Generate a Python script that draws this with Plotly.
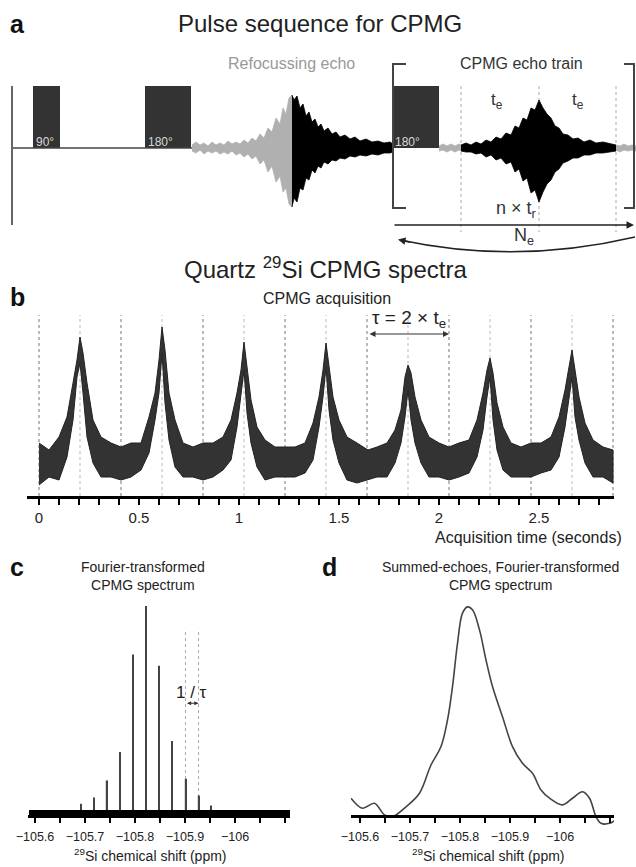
import plotly.graph_objects as go

W, H = 636, 867

# ---------------- Panel a: pulse sequence (time in a.u., amplitude in a.u.) ----------------
pulse_start = [33, 145, 392]
pulse_end = [60, 191, 439]
pulse_amp = [62, 62, 62]
pulse_labels = ["90°", "180°", "180°"]

refocus_t = [192, 196, 200, 204, 208, 212, 216, 220, 224, 228, 232, 236, 240, 244, 248, 252, 256, 260,
             264, 268, 272, 276, 280, 283, 286, 289, 292]
refocus_up = [3, 6, 3, 5, 2, 6, 3, 5, 3, 7, 4, 6, 4, 8, 5, 10, 7, 14, 10, 20, 16, 30, 24, 40, 34, 50, 53]
refocus_lo = [3, 5, 2, 6, 3, 5, 3, 6, 4, 6, 3, 7, 5, 9, 6, 11, 8, 16, 12, 24, 18, 34, 28, 44, 40, 56, 59]

echo1_t = [292, 294, 297, 300, 303, 306, 309, 312, 315, 318, 321, 324, 328, 332, 336, 340, 345, 350,
           355, 360, 366, 372, 378, 384, 390, 393]
echo1_up = [53, 48, 52, 40, 44, 32, 36, 26, 29, 21, 24, 17, 20, 14, 16, 11, 13, 9, 11, 7, 9, 6, 7, 5, 6, 4]
echo1_lo = [59, 50, 54, 40, 42, 30, 32, 22, 25, 18, 20, 14, 16, 12, 13, 10, 11, 8, 9, 7, 8, 6, 7, 5, 5, 4]

gap_t = [439, 443, 447, 451, 455, 459, 461]
gap_up = [2, 4, 2, 4, 2, 4, 3]
gap_lo = [3, 2, 4, 2, 4, 2, 3]

echo2_t = [461, 466, 471, 476, 481, 486, 491, 496, 501, 506, 511, 515, 519, 523, 527, 531, 535, 539,
           543, 547, 551, 555, 559, 563, 568, 573, 578, 584, 590, 596, 603, 610, 616]
echo2_up = [3, 5, 3, 6, 4, 8, 6, 11, 9, 15, 13, 22, 20, 30, 28, 40, 38, 48, 40, 34, 30, 22, 20, 14,
            13, 9, 10, 6, 8, 5, 6, 4, 3]
echo2_lo = [3, 4, 4, 6, 5, 9, 7, 12, 10, 16, 14, 24, 21, 33, 30, 45, 42, 54, 44, 36, 32, 24, 21, 15,
            13, 10, 10, 7, 7, 5, 5, 4, 3]

tail_t = [616, 620, 624, 628, 632, 636]
tail_up = [3, 2, 4, 2, 3, 2]
tail_lo = [2, 4, 2, 3, 2, 3]

a_dotted_t = [461, 539, 616]

# ---------------- Panel b: CPMG acquisition ----------------
b_time = [0.00, 0.05, 0.10, 0.14, 0.17, 0.19, 0.205, 0.22, 0.24, 0.27, 0.31, 0.36, 0.41,
          0.46, 0.51, 0.55, 0.58, 0.60, 0.615, 0.63, 0.65, 0.68, 0.72, 0.77, 0.82,
          0.87, 0.92, 0.96, 0.99, 1.01, 1.025, 1.04, 1.06, 1.09, 1.13, 1.18, 1.23,
          1.28, 1.33, 1.37, 1.40, 1.42, 1.435, 1.45, 1.47, 1.50, 1.54, 1.59, 1.645,
          1.69, 1.74, 1.78, 1.81, 1.83, 1.845, 1.86, 1.88, 1.91, 1.95, 2.00, 2.05,
          2.10, 2.15, 2.19, 2.22, 2.24, 2.255, 2.27, 2.29, 2.32, 2.36, 2.41, 2.46,
          2.51, 2.56, 2.60, 2.63, 2.65, 2.665, 2.68, 2.70, 2.73, 2.77, 2.82, 2.87]
b_upper = [20, 13, 26, 46, 80, 103, 126, 110, 80, 43, 26, 20, 16,
           20, 20, 46, 70, 103, 136, 113, 70, 43, 20, 16, 20,
           20, 26, 43, 70, 93, 121, 96, 63, 36, 23, 16, 16,
           16, 20, 40, 66, 93, 120, 96, 66, 43, 26, 20, 13,
           16, 20, 33, 53, 86, 98, 90, 66, 43, 26, 20, 16,
           20, 23, 43, 70, 93, 105, 90, 60, 36, 20, 16, 20,
           20, 26, 46, 73, 96, 113, 93, 66, 40, 23, 16, 13]
b_lower = [-22, -14, -17, 6, 43, 86, 100, 70, 26, 0, -14, -14, -17,
           -14, -7, 10, 43, 70, 110, 60, 23, -4, -14, -14, -17,
           -14, -7, 3, 36, 66, 93, 50, 20, -4, -17, -14, -14,
           -14, -10, 3, 36, 66, 96, 53, 23, 0, -17, -20, -17,
           -14, -14, 0, 20, 46, 73, 43, 20, 0, -14, -14, -17,
           -14, -10, 6, 33, 66, 86, 43, 13, -7, -14, -14, -14,
           -10, -7, 6, 36, 66, 86, 46, 23, 0, -14, -14, -20]
b_dotted = [0.0, 0.205, 0.41, 0.615, 0.82, 1.025, 1.23, 1.435, 1.64, 1.845, 2.05, 2.255, 2.46, 2.665, 2.87]
b_ticks = [0, 0.5, 1, 1.5, 2, 2.5]
b_ticktext = ["0", "0.5", "1", "1.5", "2", "2.5"]

# ---------------- Panel c: FT CPMG spectrum (spikelets) ----------------
c_ppm = [-105.692, -105.718, -105.743, -105.770, -105.796, -105.822, -105.848, -105.874, -105.901, -105.927, -105.952]
c_int = [0.044, 0.074, 0.157, 0.294, 0.766, 1.0, 0.711, 0.348, 0.165, 0.084, 0.036]
c_noise_ppm = [-105.588, -106.12]

# ---------------- Panel d: summed echoes spectrum ----------------
d_ppm = [-105.582, -105.605, -105.629, -105.649, -105.665, -105.692, -105.719, -105.742, -105.762,
         -105.775, -105.785, -105.795, -105.805, -105.815, -105.825, -105.839, -105.852, -105.865,
         -105.885, -105.905, -105.925, -105.945, -105.962, -105.979, -106.005, -106.025, -106.045,
         -106.059, -106.072, -106.082, -106.099, -106.115]
d_int = [0.085, 0.037, 0.061, 0.005, -0.003, 0.044, 0.109, 0.244, 0.332,
         0.459, 0.619, 0.826, 0.970, 1.0, 0.986, 0.89, 0.746, 0.619,
         0.475, 0.332, 0.252, 0.204, 0.124, 0.085, 0.053, 0.085, 0.116,
         0.085, -0.003, -0.035, -0.035, -0.011]

ppm_ticks = [-105.6, -105.7, -105.8, -105.9, -106.0]
ppm_ticktext = ["\u2212105.6", "\u2212105.7", "\u2212105.8", "\u2212105.9", "\u2212106"]

FONT = "Arial, Liberation Sans, sans-serif"


def px(xp):
    return xp / W


def py(yp):
    return 1 - yp / H


def band(t, up, lo, neg=True):
    lo_vals = [-v for v in lo] if neg else list(lo)
    return list(t) + list(t)[::-1], list(up) + lo_vals[::-1]


fig = go.Figure()

# ---- panel a traces
fig.add_trace(go.Scatter(x=[12, 192], y=[0, 0], mode="lines",
                         line=dict(color="#444", width=1.5), xaxis="x", yaxis="y"))
fig.add_trace(go.Bar(x=[(s + e) / 2 for s, e in zip(pulse_start, pulse_end)],
                     y=pulse_amp, width=[e - s for s, e in zip(pulse_start, pulse_end)],
                     marker=dict(color="#333", line=dict(width=0)), xaxis="x", yaxis="y"))
for t, up, lo, col in [(refocus_t, refocus_up, refocus_lo, "#b0b0b0"),
                       (echo1_t, echo1_up, echo1_lo, "#000"),
                       (gap_t, gap_up, gap_lo, "#b0b0b0"),
                       (echo2_t, echo2_up, echo2_lo, "#000"),
                       (tail_t, tail_up, tail_lo, "#b0b0b0")]:
    bx, by = band(t, up, lo)
    fig.add_trace(go.Scatter(x=bx, y=by, fill="toself", fillcolor=col, mode="lines",
                             line=dict(color=col, width=0.8), xaxis="x", yaxis="y"))

# ---- panel b traces
bx, by = band(b_time, b_upper, b_lower, neg=False)
fig.add_trace(go.Scatter(x=bx, y=by, fill="toself", fillcolor="#333", mode="lines",
                         line=dict(color="#222", width=1), xaxis="x2", yaxis="y2"))

# ---- panel c traces
fig.add_trace(go.Scatter(x=c_noise_ppm, y=[0, 0], mode="lines", line=dict(color="#000", width=6),
                         xaxis="x3", yaxis="y3"))
fig.add_trace(go.Bar(x=c_ppm, y=c_int, width=0.0028, marker=dict(color="#444", line=dict(width=0)),
                     xaxis="x3", yaxis="y3"))

# ---- panel d traces
fig.add_trace(go.Scatter(x=d_ppm, y=d_int, mode="lines", line=dict(color="#444", width=1.6, shape="spline"),
                         xaxis="x4", yaxis="y4"))

shapes = []
shapes.append(dict(type="line", xref="x", yref="y", x0=12, x1=12, y0=62, y1=-77,
                   line=dict(color="#666", width=2)))
for t in a_dotted_t:
    shapes.append(dict(type="line", xref="x", yref="y", x0=t, x1=t, y0=62, y1=-84,
                       line=dict(color="#aaa", width=1, dash="dot"), layer="below"))
shapes.append(dict(type="path", xref="x", yref="y", path="M 406,84 L 393,84 L 393,-60 L 406,-60",
                   line=dict(color="#444", width=2)))
shapes.append(dict(type="path", xref="x", yref="y", path="M 624,84 L 634,84 L 634,-60 L 624,-60",
                   line=dict(color="#444", width=2)))
shapes.append(dict(type="path", xref="x", yref="y", path="M 635,-89 Q 516,-117 400,-92",
                   line=dict(color="#222", width=1.5)))
for i, t in enumerate(b_dotted):
    shapes.append(dict(type="line", xref="x2", yref="y2", x0=t, x1=t, y0=-33, y1=148,
                       line=dict(color="#bbb" if i % 2 else "#777", width=1, dash="dot"), layer="below"))
for t in c_ppm[8:10]:
    shapes.append(dict(type="line", xref="x3", yref="y3", x0=t, x1=t, y0=-0.01, y1=0.89,
                       line=dict(color="#aaa", width=1, dash="dot"), layer="below"))

ann = []


def text(x, y, s, size, color="#222", xanchor="center", bold=False):
    ann.append(dict(x=px(x), y=py(y), xref="paper", yref="paper", text=("<b>%s</b>" % s) if bold else s,
                    showarrow=False, xanchor=xanchor, yanchor="middle",
                    font=dict(size=size, color=color, family=FONT)))


text(8, 24, "a", 25, "#111", "left", True)
text(320, 23, "Pulse sequence for CPMG", 24)
text(291, 63, "Refocussing echo", 16, "#999")
text(521, 64, "CPMG echo train", 16, "#333")
for s, lab in zip(pulse_start, pulse_labels):
    text(s + 1, 142, lab, 12, "#d8d8d8", "left")
text(497, 101, "t<sub>e</sub>", 17, "#333")
text(578, 101, "t<sub>e</sub>", 17, "#333")
text(516, 210, "n × t<sub>r</sub>", 18, "#333")
text(524, 237, "N<sub>e</sub>", 18, "#333")

text(325, 268, "Quartz <sup>29</sup>Si CPMG spectra", 24)
text(8, 297, "b", 25, "#111", "left", True)
text(327, 298, "CPMG acquisition", 16)
text(409, 319, "τ = 2 × t<sub>e</sub>", 19)
text(624, 537, "Acquisition time (seconds)", 16, "#222", "right")

text(8, 567, "c", 25, "#111", "left", True)
text(143, 576, "Fourier-transformed<br>CPMG spectrum", 14)
text(191, 692, "1 / τ", 17)
text(150, 855, "<sup>29</sup>Si chemical shift (ppm)", 14)

text(320, 567, "d", 25, "#111", "left", True)
text(500, 576, "Summed-echoes, Fourier-transformed<br>CPMG spectrum", 14)
text(488, 855, "<sup>29</sup>Si chemical shift (ppm)", 14)

ann.append(dict(x=634, y=-77, xref="x", yref="y", ax=393, ay=-77, axref="x", ayref="y",
                showarrow=True, arrowhead=2, arrowsize=1, arrowwidth=1.5, arrowcolor="#222", text=""))
ann.append(dict(x=398, y=-91.5, xref="x", yref="y", ax=14, ay=3,
                showarrow=True, arrowhead=2, arrowsize=1, arrowwidth=1.5, arrowcolor="#222", text=""))
ann.append(dict(x=2.05, y=129, xref="x2", yref="y2", ax=1.645, ay=129, axref="x2", ayref="y2",
                showarrow=True, arrowhead=2, arrowside="end+start", arrowsize=1, arrowwidth=1.2,
                arrowcolor="#333", text=""))
ann.append(dict(x=-105.927, y=0.53, xref="x3", yref="y3", ax=-105.901, ay=0.53, axref="x3", ayref="y3",
                showarrow=True, arrowhead=2, arrowside="end+start", arrowsize=0.7, arrowwidth=1.2,
                arrowcolor="#333", text=""))
ann.append(dict(x=2.94, y=-33, xref="x2", yref="y2", ax=-20, ay=0, showarrow=True, arrowhead=2,
                arrowsize=1.3, arrowwidth=2.2, arrowcolor="#000", text=""))
ann.append(dict(x=-106.136, y=-0.01, xref="x3", yref="y3", ax=-20, ay=0, showarrow=True, arrowhead=2,
                arrowsize=1.3, arrowwidth=2.2, arrowcolor="#000", text=""))
ann.append(dict(x=-106.134, y=0, xref="x4", yref="y4", ax=-20, ay=0, showarrow=True, arrowhead=2,
                arrowsize=1.3, arrowwidth=2.2, arrowcolor="#000", text=""))

hidden = dict(visible=False, showgrid=False, zeroline=False, automargin=False)
tickfont_small = dict(size=12.5, color="#222", family=FONT)

fig.update_layout(
    template="none",
    width=W, height=H, margin=dict(l=0, r=0, t=0, b=0, pad=0), autosize=False,
    paper_bgcolor="white", plot_bgcolor="rgba(0,0,0,0)", showlegend=False,
    barmode="overlay",
    xaxis=dict(domain=[0, 1], range=[0, 636], **hidden),
    yaxis=dict(domain=[py(270), py(50)], range=[-122, 98], **hidden),
    xaxis2=dict(domain=[px(27), px(614)], range=[-0.06, 2.875], anchor="y2", automargin=False,
                showline=True, linecolor="#000", linewidth=2.5, showgrid=False, zeroline=False,
                ticks="outside", ticklen=6, tickwidth=1.5, tickcolor="#000", ticklabelstandoff=0,
                tickmode="array", tickvals=b_ticks, ticktext=b_ticktext,
                tickfont=dict(size=15, color="#222", family=FONT),
                minor=dict(dtick=0.1, tick0=0, ticks="outside", ticklen=6, tickwidth=1.5, tickcolor="#000",
                           showgrid=False)),
    yaxis2=dict(domain=[py(496), py(300)], range=[-33, 163], anchor="x2", **hidden),
    xaxis3=dict(domain=[px(28), px(290)], range=[-105.586, -106.11], anchor="y3", automargin=False,
                showline=True, linecolor="#000", linewidth=2.5, showgrid=False, zeroline=False,
                ticks="outside", ticklen=5, tickwidth=1.5, tickcolor="#000", ticklabelstandoff=3,
                tickmode="array", tickvals=ppm_ticks, ticktext=ppm_ticktext, tickfont=tickfont_small,
                minor=dict(dtick=0.05, tick0=-106, ticks="outside", ticklen=5, tickwidth=1.5, tickcolor="#000",
                           showgrid=False)),
    yaxis3=dict(domain=[py(815), py(600)], range=[-0.01, 1.029], anchor="x3", **hidden),
    xaxis4=dict(domain=[px(351), px(614)], range=[-105.582, -106.108], anchor="free", position=py(816),
                automargin=False,
                showline=True, linecolor="#000", linewidth=2.5, showgrid=False, zeroline=False,
                ticks="outside", ticklen=5, tickwidth=1.5, tickcolor="#000", ticklabelstandoff=3,
                tickmode="array", tickvals=ppm_ticks, ticktext=ppm_ticktext, tickfont=tickfont_small,
                minor=dict(dtick=0.05, tick0=-106, ticks="outside", ticklen=5, tickwidth=1.5, tickcolor="#000",
                           showgrid=False)),
    yaxis4=dict(domain=[py(830), py(600)], range=[-0.067, 1.033], anchor="x4", **hidden),
    shapes=shapes,
    annotations=ann,
)

fig.write_html("out.html")
